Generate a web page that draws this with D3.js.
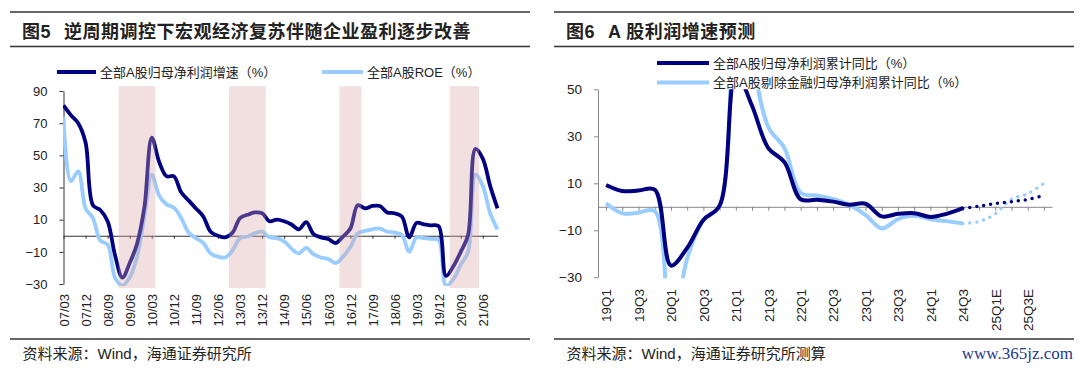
<!DOCTYPE html>
<html lang="zh">
<head>
<meta charset="utf-8">
<script src="https://d3js.org/d3.v7.min.js"></script>
<style>
  body { margin: 0; background: #fff; }
  svg text { font-family: "Liberation Sans", "Noto Sans CJK SC", sans-serif; fill: #222; }
</style>
</head>
<body>
<script>
// ---- 图5 data (quarterly) ----
var leftQuarters = ["07/03","07/06","07/09","07/12","08/03","08/06","08/09","08/12",
  "09/03","09/06","09/09","09/12","10/03","10/06","10/09","10/12",
  "11/03","11/06","11/09","11/12","12/03","12/06","12/09","12/12",
  "13/03","13/06","13/09","13/12","14/03","14/06","14/09","14/12",
  "15/03","15/06","15/09","15/12","16/03","16/06","16/09","16/12",
  "17/03","17/06","17/09","17/12","18/03","18/06","18/09","18/12",
  "19/03","19/06","19/09","19/12","20/03","20/06","20/09","20/12",
  "21/03","21/06","21/09","21/12"];
var leftTickLabels = ["07/03","07/12","08/09","09/06","10/03","10/12","11/09","12/06",
  "13/03","13/12","14/09","15/06","16/03","16/12","17/09","18/06","19/03","19/12","20/09","21/06"];
var profitGrowth = [81, 75, 70, 58, 19, 16, 9, -12, -26, -17, -5, 18, 61, 46, 37, 37,
  27, 22, 17, 12, 2.5, 0, -1, 2, 11, 13, 14.5, 14, 9, 10, 9, 7,
  4, 8.5, 1, -1, -2, -4.5, -0.5, 4.5, 19, 17, 18.5, 18.5, 14.5, 14, 12, -1,
  8, 7, 6.5, 6, -25, -19, -10, 0.5, 54, 48, 31, 17];
var roe = [74, 34, 40, 17, 11, -3, -5.5, -26, -31, -26, -13, 12, 38, 25, 19.5, 17.5,
  11, 2, -1.5, -4.5, -11, -13, -13.5, -9, -1.5, -0.5, 1.5, 2.5, -1, -1.5, -3.5, -8,
  -11, -7.5, -11.5, -13.5, -14.5, -17, -13, -7, 1.5, 3, 4, 4.5, 2.5, 2, 0.5, -10,
  -1, -1.5, -2, -2.5, -31, -27, -18, -10, 38, 31, 14, 4];
var shadedPeriods = [["09/03","10/03"], ["12/12","13/12"], ["16/09","17/03"], ["20/06","21/03"]];
var leftYTicks = [90, 70, 50, 30, 10, -10, -30];

// ---- 图6 data ----
var rightQuarters = ["19Q1","19Q2","19Q3","19Q4","20Q1","20Q2","20Q3","20Q4",
  "21Q1","21Q2","21Q3","21Q4","22Q1","22Q2","22Q3","22Q4",
  "23Q1","23Q2","23Q3","23Q4","24Q1","24Q2","24Q3",
  "24Q4E","25Q1E","25Q2E","25Q3E","25Q4E"];
var rightTickLabels = ["19Q1","19Q3","20Q1","20Q3","21Q1","21Q3","22Q1","22Q3",
  "23Q1","23Q3","24Q1","24Q3","25Q1E","25Q3E"];
// actual, 19Q1 - 24Q3
var totalGrowth = [9.3, 6.7, 6.9, 7.3, -25, -17.5, -5.6, 0.5, 57, 43, 25, 19,
  3.2, 3, 2.2, 0.9, 1.3, -4.1, -3, -2.7, -4.3, -3, -0.6];
var exFinGrowth = [1.5, -2.8, -2.5, -1.8, -55, -22, -5.6, 0.4, 110, 65, 34, 25,
  6, 4.8, 3.3, 0.8, -3.5, -9.2, -5.2, -3.8, -5.3, -6.1, -7.1];
// forecast, 24Q4E - 25Q4E
var totalForecast = [0.2, 1.4, 2.2, 3.1, 4.8];
var exFinForecast = [-6.3, -3, 3.2, 5.6, 10];
var rightYTicks = [50, 30, 10, -10, -30];

var navy = "#000080", sky = "#99CCFF";

var svg = d3.select("body").append("svg")
    .attr("width", 1080)
    .attr("height", 368);

// header / footer rules and titles
function frame(x0, x1, fig, title, source) {
    [12, 46.5, 339].forEach(function(y) {
        svg.append("line")
            .attr("x1", x0).attr("x2", x1).attr("y1", y).attr("y2", y)
            .attr("stroke", "#333").attr("stroke-width", 1.6);
    });
    svg.append("text")
        .attr("x", x0 + 12).attr("y", 37.5)
        .attr("font-size", 18).attr("font-weight", "bold")
        .style("letter-spacing", "0.5px")
        .text(fig);
    svg.append("text")
        .attr("x", x0 + 54).attr("y", 37.5)
        .attr("font-size", 18).attr("font-weight", "bold")
        .style("letter-spacing", "0.5px")
        .text(title);
    svg.append("text")
        .attr("x", x0 + 12.5).attr("y", 359)
        .attr("font-size", 15)
        .text(source);
}
frame(10, 530, "图5", "逆周期调控下宏观经济复苏伴随企业盈利逐步改善", "资料来源：Wind，海通证券研究所");
frame(554, 1074, "图6", "", "资料来源：Wind，海通证券研究所测算");
svg.append("text")
    .attr("x", 608).attr("y", 37.5)
    .attr("font-size", 18).attr("font-weight", "bold")
    .style("letter-spacing", "0.5px")
    .text("A 股利润增速预测");

svg.append("text")
    .attr("x", 1073).attr("y", 359)
    .attr("text-anchor", "end")
    .style("font-family", "'Liberation Serif', serif")
    .style("fill", "#1d3a8c")
    .attr("font-size", 17)
    .text("www.365jz.com");

function legendItem(x, y, len, color, label) {
    svg.append("line")
        .attr("x1", x).attr("x2", x + len).attr("y1", y).attr("y2", y)
        .attr("stroke", color).attr("stroke-width", 4);
    svg.append("text")
        .attr("x", x + len + 4).attr("y", y).attr("dy", "0.35em")
        .attr("font-size", 13)
        .text(label);
}

var smooth = d3.curveCatmullRom.alpha(0.5);

// ================= 图5 =================
var xL = d3.scalePoint().domain(leftQuarters).range([63.5, 497.5]);
var yL = d3.scaleLinear().domain([-30, 90]).range([284, 91]);
var stepL = xL.step();

svg.append("defs").append("clipPath").attr("id", "clipL")
    .append("rect").attr("x", 63).attr("y", 86).attr("width", 440).attr("height", 200);

var gyL = svg.append("g")
    .attr("transform", "translate(" + xL.range()[0] + ",0)")
    .call(d3.axisLeft(yL).tickValues(leftYTicks).tickSize(4).tickSizeOuter(0).tickPadding(12));
gyL.selectAll("text").attr("font-size", 13);
gyL.selectAll("path, line").attr("stroke", "#333");

var gxL = svg.append("g")
    .attr("transform", "translate(0," + yL(0) + ")")
    .call(d3.axisBottom(xL).tickValues(leftTickLabels).tickSize(3).tickSizeOuter(0).tickFormat(""));
gxL.selectAll("path, line").attr("stroke", "#333");

var lblL = svg.append("g")
    .attr("transform", "translate(0,294)")
    .call(d3.axisBottom(xL).tickValues(leftTickLabels).tickSize(0).tickPadding(0));
lblL.select(".domain").remove();
lblL.selectAll("text")
    .attr("font-size", 13)
    .attr("transform", "rotate(-90)")
    .attr("text-anchor", "end")
    .attr("x", 0).attr("y", 0).attr("dy", "0.36em");

var lineL = d3.line()
    .x(function(d, i) { return xL(leftQuarters[i]); })
    .y(function(d) { return yL(d); })
    .curve(smooth);

var plotL = svg.append("g").attr("clip-path", "url(#clipL)");
plotL.append("path").datum(roe)
    .attr("d", lineL).attr("fill", "none")
    .attr("stroke", sky).attr("stroke-width", 3.8);
plotL.append("path").datum(profitGrowth)
    .attr("d", lineL).attr("fill", "none")
    .attr("stroke", navy).attr("stroke-width", 3.8);

svg.selectAll(".band").data(shadedPeriods).enter()
    .append("rect")
    .attr("class", "band")
    .attr("x", function(d) { return xL(d[0]) - stepL / 2; })
    .attr("width", function(d) { return xL(d[1]) - xL(d[0]) + stepL; })
    .attr("y", yL(93))
    .attr("height", yL(-32.5) - yL(93))
    .attr("fill", "rgb(218,166,166)")
    .attr("opacity", 0.35);

legendItem(57, 72, 39, navy, "全部A股归母净利润增速（%）");
legendItem(322, 72, 41, sky, "全部A股ROE（%）");

// ================= 图6 =================
var xR = d3.scalePoint().domain(rightQuarters).range([598, 1052]).padding(0.5);
var yR = d3.scaleLinear().domain([-30, 50]).range([277.3, 89.3]);

svg.select("defs").append("clipPath").attr("id", "clipR")
    .append("rect").attr("x", 598).attr("y", 89.3).attr("width", 460).attr("height", 189);

var gyR = svg.append("g")
    .attr("transform", "translate(598,0)")
    .call(d3.axisLeft(yR).tickValues(rightYTicks).tickSize(4).tickSizeOuter(0).tickPadding(12));
gyR.selectAll("text").attr("font-size", 13.5);
gyR.selectAll("path, line").attr("stroke", "#888");

var gxR = svg.append("g")
    .attr("transform", "translate(0," + yR(0) + ")")
    .call(d3.axisBottom(xR).tickSize(4).tickSizeOuter(0).tickFormat(""));
gxR.selectAll("path, line").attr("stroke", "#888");

var lblR = svg.append("g")
    .attr("transform", "translate(0,289)")
    .call(d3.axisBottom(xR).tickValues(rightTickLabels).tickSize(0).tickPadding(0));
lblR.select(".domain").remove();
lblR.selectAll("text")
    .attr("font-size", 13.5)
    .attr("transform", "rotate(-90)")
    .attr("text-anchor", "end")
    .attr("x", 0).attr("y", 0).attr("dy", "0.36em");

function lineR(offset) {
    return d3.line()
        .x(function(d, i) { return xR(rightQuarters[i + offset]); })
        .y(function(d) { return yR(d); })
        .curve(smooth);
}
var nAct = totalGrowth.length;
var plotR = svg.append("g").attr("clip-path", "url(#clipR)");

plotR.append("path").datum(exFinGrowth)
    .attr("d", lineR(0)).attr("fill", "none")
    .attr("stroke", sky).attr("stroke-width", 4);
plotR.append("path").datum(totalGrowth)
    .attr("d", lineR(0)).attr("fill", "none")
    .attr("stroke", navy).attr("stroke-width", 4);

plotR.append("path").datum([exFinGrowth[nAct - 1]].concat(exFinForecast))
    .attr("d", lineR(nAct - 1)).attr("fill", "none")
    .attr("stroke", sky).attr("stroke-width", 3.5)
    .attr("stroke-linecap", "round").attr("stroke-dasharray", "0 7");
plotR.append("path").datum([totalGrowth[nAct - 1]].concat(totalForecast))
    .attr("d", lineR(nAct - 1)).attr("fill", "none")
    .attr("stroke", navy).attr("stroke-width", 3.5)
    .attr("stroke-linecap", "round").attr("stroke-dasharray", "0 7");

legendItem(657, 63, 52, navy, "全部A股归母净利润累计同比（%）");
legendItem(657, 82.6, 52, sky, "全部A股剔除金融归母净利润累计同比（%）");
</script>
</body>
</html>
